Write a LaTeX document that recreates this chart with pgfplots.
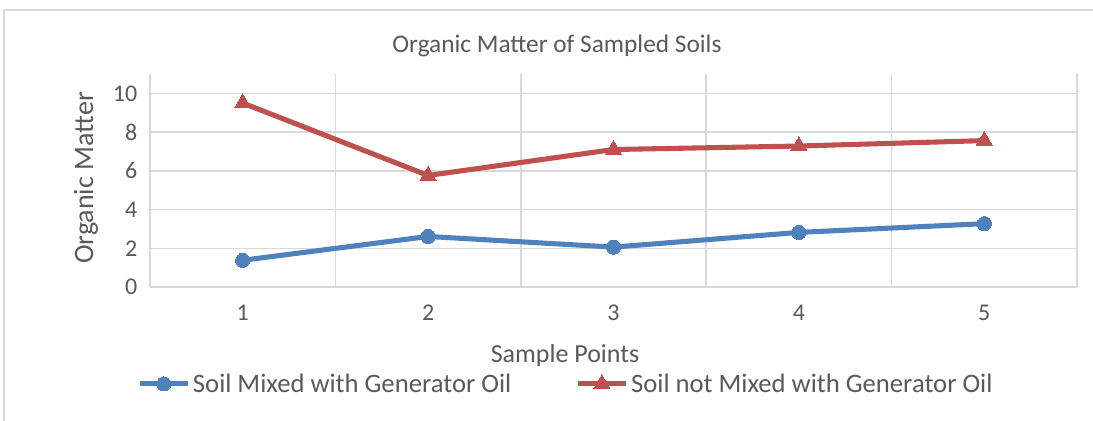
\documentclass[border=0pt]{standalone}
\usepackage{pgfplots}
\pgfplotsset{compat=1.18}
\usepackage{fontspec}
\setmainfont{Carlito}
\definecolor{txt}{HTML}{595959}
\definecolor{gridc}{HTML}{D9D9D9}
\definecolor{blu}{HTML}{4F81BD}
\definecolor{rd}{HTML}{C0504D}
\begin{document}
\begin{tikzpicture}[x=0.75pt,y=0.75pt,font=\fontsize{15}{18}\selectfont]
\useasboundingbox (0,0) rectangle (1093,421);
\draw[gridc, line width=1.2pt] (4,0) -- (4,411) -- (1093,411);
\node[txt, font=\fontsize{19}{22}\selectfont] at (557,375) {Organic Matter of Sampled Soils};
\node[txt, rotate=90, font=\fontsize{21}{24}\selectfont] at (86,243) {Organic Matter};
\node[txt, font=\fontsize{19.5}{22}\selectfont] at (565,65) {Sample Points};
\begin{axis}[
  at={(112.5pt,100.5pt)}, anchor=south west,
  width=695.25pt, height=159.75pt, scale only axis,
  xmin=0.5, xmax=5.5, ymin=0, ymax=11,
  xtick={1,2,3,4,5}, ytick={0,2,4,6,8,10},
  minor xtick={0.5,1.5,2.5,3.5,4.5,5.5},
  ymajorgrids, xminorgrids,
  major grid style={gridc, line width=1.1pt},
  minor grid style={gridc, line width=1.1pt},
  axis x line*=bottom, axis y line*=left,
  axis line style={gridc, line width=1.2pt, -},
  major tick length=0pt, minor tick length=0pt,
  /pgf/number format/assume math mode=true,
  tick label style={txt, font=\fontsize{18}{20}\selectfont},
  xticklabel style={yshift=-10pt},
  yticklabel style={xshift=-6pt},
  legend columns=2,
  legend style={draw=none, fill=none, at={(0.449,-0.455)}, anchor=center,
    font=\fontsize{20}{22}\selectfont, text=txt,
    /tikz/every even column/.append style={column sep=46pt}},
  legend image code/.code={
    \draw[#1] (0pt,0pt) -- (36pt,0pt);
    \draw[#1, only marks] plot coordinates {(18pt,0pt)};
  },
]
\addplot[blu, line width=3.8pt, mark=*, mark size=5.3pt, mark options={solid, fill=blu, line width=0pt}]
  coordinates {(1,1.38) (2,2.61) (3,2.06) (4,2.82) (5,3.27)};
\addlegendentry{Soil Mixed with Generator Oil}
\addplot[rd, line width=3.8pt, mark=triangle*, mark size=7pt, mark options={solid, fill=rd, line width=0pt}]
  coordinates {(1,9.5) (2,5.76) (3,7.1) (4,7.28) (5,7.56)};
\addlegendentry{Soil not Mixed with Generator Oil}
\end{axis}
\end{tikzpicture}
\end{document}
